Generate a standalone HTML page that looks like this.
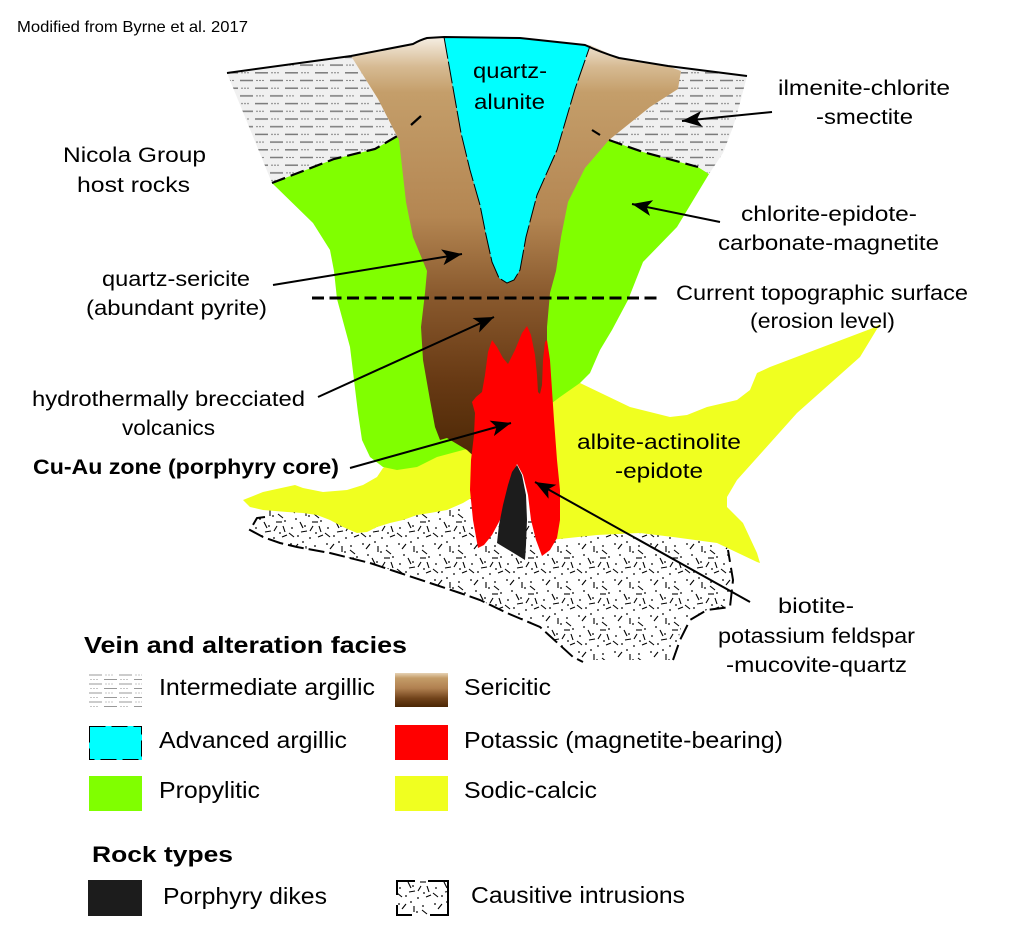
<!DOCTYPE html>
<html>
<head>
<meta charset="utf-8">
<style>
  html,body{margin:0;padding:0;background:#fff;}
  svg{display:block;}
  text{font-family:"Liberation Sans", Arial, sans-serif; fill:#000;}
</style>
</head>
<body>
<svg width="1016" height="946" viewBox="0 0 1016 946" xmlns="http://www.w3.org/2000/svg">
  <defs>
    <linearGradient id="brown" gradientUnits="userSpaceOnUse" x1="0" y1="37" x2="0" y2="465">
      <stop offset="0" stop-color="#f6efe4"/>
      <stop offset="0.07" stop-color="#d6ba92"/>
      <stop offset="0.13" stop-color="#c49e6a"/>
      <stop offset="0.42" stop-color="#b48652"/>
      <stop offset="0.6" stop-color="#8a5a2e"/>
      <stop offset="0.8" stop-color="#683a14"/>
      <stop offset="1" stop-color="#4a2604"/>
    </linearGradient>
    <linearGradient id="brownLeg" x1="0" y1="0" x2="0" y2="1">
      <stop offset="0" stop-color="#e6d2b4"/>
      <stop offset="0.15" stop-color="#c49c68"/>
      <stop offset="0.45" stop-color="#b08050"/>
      <stop offset="0.75" stop-color="#70421a"/>
      <stop offset="1" stop-color="#4a2604"/>
    </linearGradient>
    <pattern id="hatch" patternUnits="userSpaceOnUse" width="30" height="15.4">
      <rect width="30" height="15.4" fill="#f0f0f0"/>
      <line x1="0" y1="3.5" x2="13" y2="3.5" stroke="#7a7a7a" stroke-width="1.5"/>
      <circle cx="17" cy="3.5" r="0.65" fill="#444"/>
      <circle cx="20" cy="3.5" r="0.65" fill="#444"/>
      <circle cx="23" cy="3.5" r="0.65" fill="#444"/>
      <line x1="15" y1="11.2" x2="28" y2="11.2" stroke="#7a7a7a" stroke-width="1.5"/>
      <circle cx="2" cy="11.2" r="0.65" fill="#444"/>
      <circle cx="5" cy="11.2" r="0.65" fill="#444"/>
      <circle cx="8" cy="11.2" r="0.65" fill="#444"/>
    </pattern>
    <pattern id="hatchL" patternUnits="userSpaceOnUse" x="89" y="673" width="30" height="9">
      <rect width="30" height="9" fill="#fff"/>
      <line x1="0" y1="2" x2="13" y2="2" stroke="#999" stroke-width="1"/>
      <circle cx="17" cy="2" r="0.5" fill="#666"/>
      <circle cx="20" cy="2" r="0.5" fill="#666"/>
      <circle cx="23" cy="2" r="0.5" fill="#666"/>
      <line x1="15" y1="6.5" x2="28" y2="6.5" stroke="#999" stroke-width="1"/>
      <circle cx="2" cy="6.5" r="0.5" fill="#666"/>
      <circle cx="5" cy="6.5" r="0.5" fill="#666"/>
      <circle cx="8" cy="6.5" r="0.5" fill="#666"/>
    </pattern>
    <pattern id="intr" patternUnits="userSpaceOnUse" width="36" height="36">
      <rect width="36" height="36" fill="#fff"/>
      <g fill="#000">
        <circle cx="3" cy="4" r="0.9"/><circle cx="15" cy="2" r="0.9"/><circle cx="27" cy="6" r="0.9"/>
        <circle cx="8" cy="15" r="0.9"/><circle cx="21" cy="12" r="0.9"/><circle cx="33" cy="17" r="0.9"/>
        <circle cx="4" cy="24" r="0.9"/><circle cx="17" cy="22" r="0.9"/><circle cx="28" cy="29" r="0.9"/>
        <circle cx="10" cy="32" r="0.9"/><circle cx="22" cy="34" r="0.9"/>
      </g>
      <g stroke="#000" stroke-width="1.1" fill="none">
        <line x1="6" y1="9" x2="10" y2="4"/>
        <line x1="18" y1="6" x2="18" y2="12"/>
        <line x1="26" y1="10" x2="31" y2="14"/>
        <line x1="12" y1="18" x2="15" y2="24"/>
        <line x1="24" y1="18" x2="30" y2="18"/>
        <line x1="1" y1="29" x2="6" y2="33"/>
        <line x1="31" y1="22" x2="33" y2="28"/>
        <line x1="13" y1="28" x2="19" y2="27"/>
        <line x1="22" y1="27" x2="25" y2="22"/>
        <line x1="30" y1="33" x2="35" y2="31"/>
      </g>
    </pattern>
    <marker id="ah" markerUnits="userSpaceOnUse" markerWidth="22" markerHeight="16" refX="20" refY="8" orient="auto">
      <path d="M0,0 L20,8 L0,16 L5,8 Z" fill="#000"/>
    </marker>
  </defs>

  <!-- Causative intrusion -->
  <path d="M250,530 L257,518 L270,505 L470,498 L560,528 L727,540 L733,573 L730,607 L707,610 L683,620 L673,660 L580,660 L573,657 L540,627 L507,613 L480,600 L460,593 L430,583 L400,573 L370,563 L330,553 L297,547 L280,543 L263,537 Z" fill="url(#intr)"/>

  <!-- Yellow sodic-calcic -->
  <path d="M243,500 L263,492 L295,485 L303,488 L323,492 L347,490 L363,485 L377,477 L383,468 L420,440 L520,410 L580,383 L630,407 L670,417 L687,415 L707,407 L737,400 L750,390 L757,373 L770,367 L873,328 L880,324 L860,357 L797,413 L737,480 L727,497 L727,507 L743,523 L757,553 L760,563 L757,562 L717,543 L673,537 L640,533 L597,535 L550,540 L556,450 L475,450 L473,497 L463,503 L447,510 L430,513 L417,515 L403,520 L390,523 L377,527 L367,532 L357,533 L343,527 L330,520 L317,515 L303,513 L287,512 L263,510 L250,507 Z" fill="#f0ff20"/>

  <!-- Green propylitic -->
  <path d="M272,183 L334,159 L375,149 L399,135 L420,110 L580,110 L609,140 L643,152 L698,167 L709,174 L677,227 L643,262 L628,300 L612,330 L600,350 L590,373 L580,383 L560,397 L552,403 L545,410 L500,440 L463,450 L437,457 L417,467 L397,470 L383,467 L370,457 L362,440 L358,413 L350,347 L337,299 L334,271 L330,250 L313,223 Z" fill="#80ff00"/>

  <!-- Grey intermediate argillic -->
  <path d="M227,73 L351,56 L378,99 L399,135 L375,149 L334,159 L272,183 Z" fill="url(#hatch)"/>
  <path d="M668,66 L747,76 L740,103 L733,127 L723,153 L709,174 L698,167 L643,152 L609,140 L650,107 L678,89 L681,71 Z" fill="url(#hatch)"/>

  <!-- Brown sericitic -->
  <path d="M351,56 L413,44 L427,38 L444,37 L520,38 L590,45 L619,58 L668,66 L681,71 L678,89 L650,107 L609,140 L585,168 L568,202 L561,237 L556,271 L550,293 L547,327 L547,347 L545,395 L540,420 L500,460 L480,462 L467,450 L447,438 L440,440 L435,427 L430,400 L423,360 L421,327 L425,293 L427,271 L413,237 L406,202 L399,140 L378,99 Z" fill="url(#brown)"/>

  <!-- Cyan advanced argillic -->
  <path d="M444,37 L520,38 L590,46 L575,89 L557,150 L537,195 L526,237 L520,270 L514,280 L507,283 L499,278 L492,262 L486,235 L480,205 L470,170 L461,133 Z" fill="#00ffff"/>
  <path d="M444,37 L461,133 L470,170 L480,205 L486,235 L492,262 L499,278 L507,283 L514,280 L520,270 L526,237 L537,195 L557,150 L575,89 L590,46" fill="none" stroke="#000" stroke-width="1" stroke-dasharray="22 3"/>

  <!-- Red potassic -->
  <path d="M478,548 L473,520 L470,490 L471,460 L474,435 L475,413 L472,402 L476,397 L482,392 L485,375 L488,352 L492,340 L497,347 L503,358 L508,364 L515,350 L522,333 L527,326 L531,335 L535,355 L537,375 L538,392 L540,394 L542,385 L543,360 L545,342 L547,340 L550,360 L552,390 L554,420 L557,460 L560,490 L560,520 L557,538 L550,550 L542,556 L536,540 L531,520 L528,495 L523,475 L517,464 L511,478 L506,500 L500,520 L492,535 L484,545 Z" fill="#ff0000"/>

  <!-- Porphyry dike -->
  <path d="M517,465 L522,475 L526,495 L527,520 L526,545 L525,560 L497,543 L499,525 L503,505 L508,485 L512,472 Z" fill="#1c1c1c"/>

  <!-- Intrusion outline -->
  <path d="M265,517 L257,518 L250,530 L263,537 L280,543 L297,547 L330,553 L370,563 L400,573 L430,583 L460,593 L480,600 L507,613 L540,627 L573,657 L583,662" fill="none" stroke="#000" stroke-width="2" stroke-dasharray="16 5"/>
  <path d="M673,660 L680,640 L690,620 L707,610 L730,607 L733,580 L728,550" fill="none" stroke="#000" stroke-width="2" stroke-dasharray="16 6"/>

  <!-- Top surface line -->
  <path d="M227,73 L351,56 L413,44 Q420,40 427,38 L444,37 L520,38 L585,45 Q600,52 619,58 L668,66 L747,76" fill="none" stroke="#000" stroke-width="2"/>

  <!-- Dashed alteration boundaries -->
  <path d="M272,183 L334,159 L375,149 L399,135" fill="none" stroke="#000" stroke-width="2.2" stroke-dasharray="14 6"/>
  <line x1="411" y1="125" x2="421" y2="116" stroke="#000" stroke-width="2.2"/>
  <path d="M609,140 L643,152 L698,167" fill="none" stroke="#000" stroke-width="2.2" stroke-dasharray="14 6"/>
  <line x1="592" y1="130" x2="600" y2="135" stroke="#000" stroke-width="2.2"/>

  <!-- Current topographic surface -->
  <line x1="312" y1="298" x2="662" y2="298" stroke="#000" stroke-width="3" stroke-dasharray="12 5.5"/>

  <!-- Arrows -->
  <g stroke="#000" stroke-width="2" fill="none" marker-end="url(#ah)">
    <line x1="772" y1="112" x2="682" y2="121"/>
    <line x1="720" y1="222" x2="632" y2="204"/>
    <line x1="273" y1="285" x2="462" y2="254"/>
    <line x1="318" y1="397" x2="494" y2="317"/>
    <line x1="350" y1="468" x2="511" y2="423"/>
    <line x1="750" y1="602" x2="535" y2="482"/>
  </g>

  <!-- Labels -->
  <text x="17" y="32" font-size="16" textLength="231" lengthAdjust="spacingAndGlyphs">Modified from Byrne et al. 2017</text>
  <g font-size="21">
    <text x="63" y="162" textLength="143" lengthAdjust="spacingAndGlyphs">Nicola Group</text>
    <text x="77" y="192" textLength="113" lengthAdjust="spacingAndGlyphs">host rocks</text>
    <text x="473" y="78" textLength="74" lengthAdjust="spacingAndGlyphs">quartz-</text>
    <text x="474" y="109" textLength="71" lengthAdjust="spacingAndGlyphs">alunite</text>
    <text x="778" y="95" textLength="172" lengthAdjust="spacingAndGlyphs">ilmenite-chlorite</text>
    <text x="816" y="124" textLength="97" lengthAdjust="spacingAndGlyphs">-smectite</text>
    <text x="741" y="221" textLength="176" lengthAdjust="spacingAndGlyphs">chlorite-epidote-</text>
    <text x="718" y="250" textLength="221" lengthAdjust="spacingAndGlyphs">carbonate-magnetite</text>
    <text x="676" y="300" textLength="292" lengthAdjust="spacingAndGlyphs">Current topographic surface</text>
    <text x="750" y="328" textLength="145" lengthAdjust="spacingAndGlyphs">(erosion level)</text>
    <text x="102" y="286" textLength="148" lengthAdjust="spacingAndGlyphs">quartz-sericite</text>
    <text x="86" y="315" textLength="181" lengthAdjust="spacingAndGlyphs">(abundant pyrite)</text>
    <text x="32" y="406" textLength="273" lengthAdjust="spacingAndGlyphs">hydrothermally brecciated</text>
    <text x="122" y="435" textLength="93" lengthAdjust="spacingAndGlyphs">volcanics</text>
    <text x="577" y="449" textLength="164" lengthAdjust="spacingAndGlyphs">albite-actinolite</text>
    <text x="615" y="478" textLength="88" lengthAdjust="spacingAndGlyphs">-epidote</text>
    <text x="778" y="613" textLength="76" lengthAdjust="spacingAndGlyphs">biotite-</text>
    <text x="718" y="643" textLength="197" lengthAdjust="spacingAndGlyphs">potassium feldspar</text>
    <text x="726" y="672" textLength="181" lengthAdjust="spacingAndGlyphs">-mucovite-quartz</text>
  </g>
  <text x="33" y="474" font-size="21" font-weight="bold" textLength="306" lengthAdjust="spacingAndGlyphs">Cu-Au zone (porphyry core)</text>

  <!-- Legend -->
  <text x="84" y="653" font-size="23" font-weight="bold" textLength="323" lengthAdjust="spacingAndGlyphs">Vein and alteration facies</text>
  <rect x="89" y="673" width="53" height="34" fill="url(#hatchL)"/>
  <rect x="89" y="726" width="53" height="34" fill="#00ffff"/>
  <rect x="89.5" y="726.5" width="52" height="33" fill="none" stroke="#000" stroke-width="1" stroke-dasharray="16 6"/>
  <rect x="89" y="776" width="53" height="35" fill="#80ff00"/>
  <rect x="395" y="673" width="53" height="34" fill="url(#brownLeg)"/>
  <rect x="395" y="725" width="53" height="35" fill="#ff0000"/>
  <rect x="395" y="776" width="53" height="35" fill="#f0ff20"/>
  <g font-size="23">
    <text x="159" y="695" textLength="216" lengthAdjust="spacingAndGlyphs">Intermediate argillic</text>
    <text x="159" y="748" textLength="188" lengthAdjust="spacingAndGlyphs">Advanced argillic</text>
    <text x="159" y="798" textLength="101" lengthAdjust="spacingAndGlyphs">Propylitic</text>
    <text x="464" y="695" textLength="87" lengthAdjust="spacingAndGlyphs">Sericitic</text>
    <text x="464" y="748" textLength="319" lengthAdjust="spacingAndGlyphs">Potassic (magnetite-bearing)</text>
    <text x="464" y="798" textLength="133" lengthAdjust="spacingAndGlyphs">Sodic-calcic</text>
  </g>

  <text x="92" y="862" font-size="22" font-weight="bold" textLength="141" lengthAdjust="spacingAndGlyphs">Rock types</text>
  <rect x="88" y="880" width="54" height="36" fill="#1c1c1c"/>
  <rect x="396" y="881" width="53" height="35" fill="url(#intr)"/>
  <path d="M397,895 L397,881 L415,881 M428,881 L448,881 L448,915 L430,915 M412,915 L397,915 L397,905" fill="none" stroke="#000" stroke-width="2"/>
  <g font-size="23">
    <text x="163" y="904" textLength="164" lengthAdjust="spacingAndGlyphs">Porphyry dikes</text>
    <text x="471" y="903" textLength="214" lengthAdjust="spacingAndGlyphs">Causitive intrusions</text>
  </g>
</svg>
</body>
</html>
